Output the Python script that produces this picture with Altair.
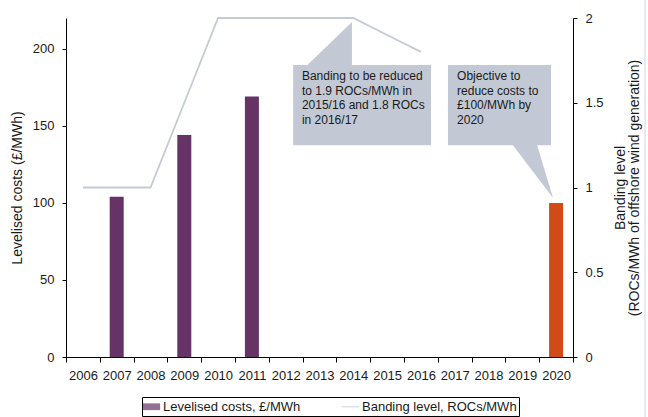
import altair as alt
import pandas as pd

# ---- data ----
years = list(range(2006, 2021))
cost_years = [2007, 2009, 2011, 2020]
cost_values = [104, 144, 169, 100]
band_years = [2006, 2007, 2008, 2009, 2010, 2011, 2012, 2013, 2014, 2015, 2016]
band_values = [1, 1, 1, 1.5, 2, 2, 2, 2, 2, 1.9, 1.8]
series_names = ["Levelised costs, £/MWh", "Banding level, ROCs/MWh"]
note_texts = [
    ["Banding to be reduced", "to 1.9 ROCs/MWh in", "2015/16 and 1.8 ROCs", "in 2016/17"],
    ["Objective to", "reduce costs to", "£100/MWh by", "2020"],
]
left_ticks = [0, 50, 100, 150, 200]
right_ticks = [0, 0.5, 1, 1.5, 2]

# ---- styles ----
FONT = "Liberation Sans, Arial, sans-serif"
PURPLE = "#663366"
ORANGE = "#D24A17"
LINE_GREY = "#C4CAD6"
BOX = "#C3C9D4"
FRAME = "#C9D6E8"
TXT = "#1a1a1a"

cost_df = pd.DataFrame({"year": cost_years, "cost": cost_values})
band_df = pd.DataFrame({"year": band_years, "band": band_values})
legend_df = pd.DataFrame({"series": series_names})

# annotation geometry, in data units (x: year, y: left-axis units)
box_df = pd.DataFrame({"x": [2012.22, 2016.80], "x2": [2016.30, 2019.85],
                       "y": [189.5, 189.5], "y2": [137.5, 137.5]})
ptr1_df = pd.DataFrame({"x": [2012.62, 2013.96], "y": [189.0, 217.4], "y2": [189.0, 189.0]})
ptr2_df = pd.DataFrame({"y": [138.0, 103.2], "x": [2018.70, 2019.91], "x2": [2019.43, 2019.91]})
text_df = pd.DataFrame({"x": [2012.48, 2017.07], "y": [185.5, 185.5], "t": note_texts})
frame_df = pd.DataFrame({"x": [2022.63], "y": [-39.0], "y2": [232.0]})

ax_x = alt.Scale(domain=[2005.5, 2020.5], nice=False, zero=False)
ax_y = alt.Scale(domain=[0, 220], nice=False, zero=True)

bars = alt.Chart(cost_df).mark_bar(size=14).encode(
    x=alt.X("year:O", scale=alt.Scale(domain=years, paddingInner=0, paddingOuter=0),
            axis=alt.Axis(title=None, labelAngle=0, tickBand="extent", tickSize=5,
                          labelPadding=7)),
    y=alt.Y("cost:Q", scale=alt.Scale(domain=[0, 220], nice=False),
            axis=alt.Axis(values=left_ticks, title="Levelised costs (£/MWh)",
                          tickSize=4, labelPadding=8, titlePadding=8)),
    color=alt.condition(alt.datum.year == 2020, alt.value(ORANGE), alt.value(PURPLE)),
)

line = alt.Chart(band_df).mark_line(color=LINE_GREY, strokeWidth=1.8).encode(
    x=alt.X("year:O", scale=alt.Scale(domain=years), axis=None),
    y=alt.Y("band:Q", scale=alt.Scale(domain=[0, 2], nice=False),
            axis=alt.Axis(orient="right", values=right_ticks, format="~g",
                          title=["Banding level", "(ROCs/MWh of offshore wind generation)"],
                          titleAngle=270, titleBaseline="top", tickSize=4,
                          labelPadding=8, titlePadding=-4, titleLineHeight=14)),
)

boxes = alt.Chart(box_df).mark_rect(color=BOX).encode(
    x=alt.X("x:Q", scale=ax_x, axis=None), x2="x2",
    y=alt.Y("y:Q", scale=ax_y, axis=None), y2="y2",
)
ptr1 = alt.Chart(ptr1_df).mark_area(color=BOX).encode(
    x=alt.X("x:Q", scale=ax_x, axis=None),
    y=alt.Y("y:Q", scale=ax_y, axis=None), y2="y2",
)
ptr2 = alt.Chart(ptr2_df).mark_area(color=BOX, orient="horizontal").encode(
    y=alt.Y("y:Q", scale=ax_y, axis=None),
    x=alt.X("x:Q", scale=ax_x, axis=None), x2="x2",
)
texts = alt.Chart(text_df).mark_text(align="left", baseline="top", fontSize=12,
                                     lineHeight=14.5, font=FONT, color=TXT).encode(
    x=alt.X("x:Q", scale=ax_x, axis=None),
    y=alt.Y("y:Q", scale=ax_y, axis=None),
    text="t",
)
frame = alt.Chart(frame_df).mark_rule(color=FRAME, strokeWidth=1).encode(
    x=alt.X("x:Q", scale=ax_x, axis=None),
    y=alt.Y("y:Q", scale=ax_y, axis=None), y2="y2",
)

leg = alt.Legend(orient="none", legendX=76, legendY=379, direction="horizontal", title=None,
                 strokeColor="#000", padding=2, symbolSize=225, symbolStrokeWidth=0,
                 labelFontSize=13, labelFont=FONT, labelColor=TXT, labelOffset=4,
                 columnPadding=40)
legend_layer = alt.Chart(legend_df).transform_filter("false").mark_point(filled=True).encode(
    color=alt.Color("series:N", scale=alt.Scale(domain=series_names, range=[PURPLE, LINE_GREY]),
                    legend=leg),
    shape=alt.Shape("series:N", scale=alt.Scale(domain=series_names,
                    range=["M-1.15,-0.45H1.15V0.45H-1.15Z", "M-1.15,-0.08H1.15V0.08H-1.15Z"]),
                    legend=leg),
)

chart = alt.layer(bars, line, boxes, ptr1, ptr2, texts, frame, legend_layer).resolve_scale(
    x="independent", y="independent"
).properties(
    width=507, height=339,
    padding={"left": 66, "top": 18, "right": 75, "bottom": 60},
    autosize=alt.AutoSizeParams(type="none"),
    background="white",
).configure_axis(
    grid=False, domainColor="#000", tickColor="#000", labelColor=TXT, titleColor=TXT,
    labelFont=FONT, titleFont=FONT, labelFontSize=13, titleFontSize=14,
    titleFontWeight="normal", domainWidth=1, tickWidth=1,
).configure_view(stroke="transparent")

chart.save("out.html", embed_options={"renderer": "svg", "actions": False})
